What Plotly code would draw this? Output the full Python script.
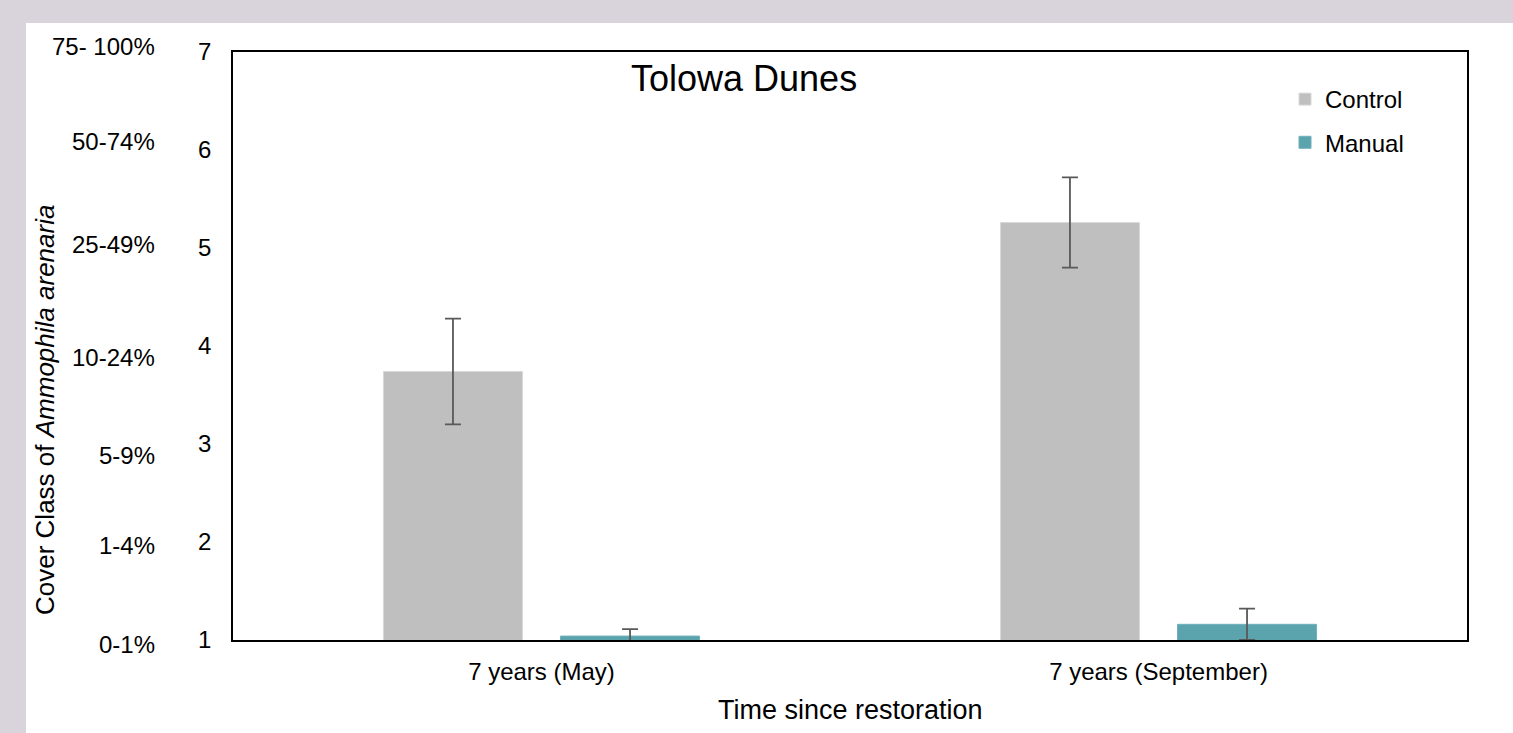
import plotly.graph_objects as go

# Cover class means with their error bars, by survey time
categories = ["7 years (May)", "7 years (September)"]
control_mean = [3.74, 5.26]
control_err = [0.54, 0.46]
manual_mean = [1.04, 1.16]
manual_err = [0.07, 0.16]

# Cover-class numbers on the y axis and the percentage band each stands for
class_ticks = [1, 2, 3, 4, 5, 6, 7]
class_bands = ["0-1%", "1-4%", "5-9%", "10-24%", "25-49%", "50-74%", "75- 100%"]
band_label_px = [644, 545, 455, 357, 244, 141, 47]

FONT = "Arial, Liberation Sans, sans-serif"
W, H = 1513, 733
ML, MR, MT, MB = 233, 46, 52, 93
PW, PH = W - ML - MR, H - MT - MB
FRAME = "#d9d4db"


def px_x(px):
    return (px - ML) / PW


def px_y(py):
    return (H - MB - py) / PH


err_style = dict(type="data", visible=True, color="#595959", thickness=1.8, width=8)

fig = go.Figure()
fig.add_trace(go.Bar(
    name="Control", x=categories, y=control_mean,
    marker=dict(color="#bfbfbf", line=dict(color="#d9d9d9", width=1)),
    error_y=dict(array=control_err, **err_style),
    legendgroup="c",
))
fig.add_trace(go.Bar(
    name="Manual", x=categories, y=manual_mean,
    marker=dict(color="#5ba4ae", line=dict(color="#6fb0b9", width=1)),
    error_y=dict(array=manual_err, **err_style),
    legendgroup="m",
))

annotations = [
    dict(text=band, x=px_x(157), xref="paper", y=px_y(py), yref="paper",
         xanchor="right", yanchor="middle", showarrow=False,
         font=dict(family=FONT, size=24, color="#000000"))
    for band, py in zip(class_bands, band_label_px)
]
annotations += [
    dict(text="Cover Class of <i>Ammophila arenaria</i>", textangle=-90,
         x=px_x(45), xref="paper", y=px_y(410), yref="paper",
         xanchor="center", yanchor="middle", showarrow=False,
         font=dict(family=FONT, size=26, color="#000000")),
    dict(text="Time since restoration",
         x=px_x(850), xref="paper", y=px_y(710), yref="paper",
         xanchor="center", yanchor="middle", showarrow=False,
         font=dict(family=FONT, size=27, color="#000000")),
    dict(text="Tolowa Dunes",
         x=px_x(744), xref="paper", y=px_y(78), yref="paper",
         xanchor="center", yanchor="middle", showarrow=False,
         font=dict(family=FONT, size=36, color="#000000")),
]

# Lilac frame strips along the top and left edges of the white page
frame_shapes = [
    dict(type="rect", xref="paper", yref="paper",
         x0=px_x(-20), x1=px_x(1560), y0=px_y(23), y1=px_y(-20),
         fillcolor=FRAME, line=dict(width=0), layer="below"),
    dict(type="rect", xref="paper", yref="paper",
         x0=px_x(-20), x1=px_x(26), y0=px_y(760), y1=px_y(-20),
         fillcolor=FRAME, line=dict(width=0), layer="below"),
]

fig.update_layout(
    width=W, height=H,
    margin=dict(l=ML, r=MR, t=MT, b=MB, pad=0),
    paper_bgcolor="#ffffff",
    plot_bgcolor="#ffffff",
    barmode="group",
    bargap=0.426,
    bargroupgap=0.215,
    font=dict(family=FONT, size=24, color="#000000"),
    showlegend=True,
    legend=dict(
        x=px_x(1285), y=px_y(77), xanchor="left", yanchor="top",
        bgcolor="rgba(0,0,0,0)", font=dict(family=FONT, size=24, color="#000000"),
        tracegroupgap=9, itemwidth=30,
    ),
    annotations=annotations,
    shapes=frame_shapes,
    xaxis=dict(
        showline=True, mirror=True, linecolor="#000000", linewidth=1.5,
        showgrid=False, zeroline=False, ticks="",
        tickfont=dict(family=FONT, size=24, color="#000000"),
        ticklabelstandoff=9,
    ),
    yaxis=dict(
        range=[1, 7], tickvals=class_ticks, ticktext=[str(t) for t in class_ticks],
        showline=True, mirror=True, linecolor="#000000", linewidth=1.5,
        showgrid=False, zeroline=False, ticks="",
        tickfont=dict(family=FONT, size=24, color="#000000"),
        ticklabelstandoff=15,
    ),
)

fig.write_html("out.html")
